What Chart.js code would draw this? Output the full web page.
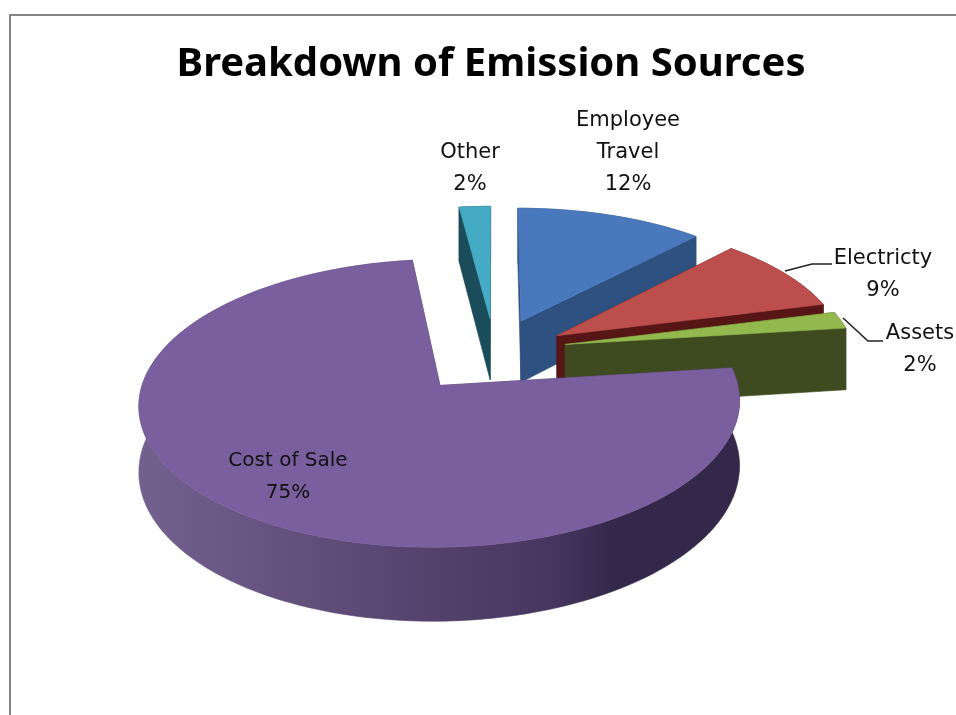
<!DOCTYPE html>
<html>
<head>
<meta charset="utf-8">
<script src="https://cdn.jsdelivr.net/npm/chart.js@4"></script>
<style>
html,body{margin:0;padding:0;background:#fff;overflow:hidden}
#wrap{position:relative;width:956px;height:715px}
</style>
</head>
<body>
<div id="wrap"><canvas id="c" width="956" height="715"></canvas></div>
<script>
const titleText = "Breakdown of Emission Sources";
const categories = ["Employee Travel", "Electricty", "Assets", "Cost of Sale", "Other"];
const values = [12, 9, 2, 75, 2];
const labelLines = [["Employee", "Travel", "12%"], ["Electricty", "9%"], ["Assets", "2%"], ["Cost of Sale", "75%"], ["Other", "2%"]];
const topColors = ["#4A78BC", "#BC4F4E", "#93B84E", "#7A5F9E", "#45ABC4"];
const faceColors = ["#2E5180", "#561616", "#3E4B20", "#4A3A63", "#1B4C5A"];
const explode = [81, 79, 76, 81, 81];

/* view of the tilted pie */
const view = { squash: 0.463, perspective: 0.121, depth: 63 };
const nudge = [[1, 0], [-1, -1], [0, -4], [0, 0], [4, 0]];
/* where each label block is centred, its type size, and its leader line */
const labelAt = [[628, 121], [883, 259], [920, 334], [288, 461], [470, 153]];
const labelSize = [21, 21, 21, 20, 21];
const leaders = [null, [[785, 271], [812, 264], [832, 264]], [[843, 318], [868, 341], [883, 341]], null, null];
const drawOrder = [4, 0, 1, 2, 3];

function project(cx, cy, R, u, v, z) {
  const s = 1 / (1 - view.perspective * v / R);
  return [cx + u * s, cy + view.squash * v * s + z * s];
}

const pie3d = {
  id: "pie3d",
  beforeDraw(chart) {
    const c = chart.ctx;
    c.save();
    c.fillStyle = "#fff";
    c.fillRect(0, 0, chart.width, chart.height);
    c.strokeStyle = "#848484";
    c.lineWidth = 2;
    c.beginPath();
    c.moveTo(10, chart.height);
    c.lineTo(10, 15);
    c.lineTo(chart.width, 15);
    c.stroke();
    c.restore();
  },
  beforeDatasetsDraw(chart) {
    const c = chart.ctx;
    const meta = chart.getDatasetMeta(0);
    const cx = meta.data[0].x, cy = meta.data[0].y, R = meta.data[0].outerRadius;
    const sideFill = (i) => {
      if (i !== 3) return faceColors[i];
      const g = c.createLinearGradient(cx - R - 60, 0, cx + 200, 0);
      g.addColorStop(0, "#72608F");
      g.addColorStop(0.45, "#594672");
      g.addColorStop(0.75, "#46365F");
      g.addColorStop(0.86, "#33274A");
      g.addColorStop(1, "#33274A");
      return g;
    };
    for (const i of drawOrder) {
      const a = meta.data[i];
      const mid = (a.startAngle + a.endAngle) / 2;
      const off = a.options.offset;
      const ox = Math.cos(mid) * off, oy = Math.sin(mid) * off;
      const P = (ang, r, z) => {
        const q = project(cx, cy, R, ox + r * Math.cos(ang), oy + r * Math.sin(ang), z);
        return [q[0] + nudge[i][0], q[1] + nudge[i][1]];
      };
      const steps = Math.max(6, Math.ceil((a.endAngle - a.startAngle) * 40));
      const arc = (z) => {
        const pts = [];
        for (let k = 0; k <= steps; k++) pts.push(P(a.startAngle + (a.endAngle - a.startAngle) * k / steps, R, z));
        return pts;
      };
      const poly = (pts, fill) => {
        c.beginPath();
        pts.forEach((p, n) => n ? c.lineTo(p[0], p[1]) : c.moveTo(p[0], p[1]));
        c.closePath();
        c.fillStyle = fill;
        c.fill();
        c.strokeStyle = fill;
        c.lineWidth = 0.6;
        c.stroke();
      };
      /* outer rim */
      poly(arc(0).concat(arc(view.depth).reverse()), sideFill(i));
      /* the two cut faces */
      poly([P(0, 0, 0), P(a.startAngle, R, 0), P(a.startAngle, R, view.depth), P(0, 0, view.depth)], faceColors[i]);
      poly([P(0, 0, 0), P(a.endAngle, R, 0), P(a.endAngle, R, view.depth), P(0, 0, view.depth)], faceColors[i]);
      /* top surface */
      poly([P(0, 0, 0)].concat(arc(0)), a.options.backgroundColor);
    }
    return false;
  },
  afterDraw(chart) {
    const c = chart.ctx;
    c.save();
    c.strokeStyle = "#222";
    c.lineWidth = 1.6;
    leaders.forEach((l) => {
      if (!l) return;
      c.beginPath();
      l.forEach((p, n) => n ? c.lineTo(p[0], p[1]) : c.moveTo(p[0], p[1]));
      c.stroke();
    });
    c.fillStyle = "#111";
    c.textAlign = "center";
    c.textBaseline = "middle";
    labelLines.forEach((lines, i) => {
      c.font = labelSize[i] + 'px "DejaVu Sans"';
      lines.forEach((t, n) => c.fillText(t, labelAt[i][0], labelAt[i][1] + n * 32));
    });
    c.restore();
  }
};

new Chart(document.getElementById("c"), {
  type: "pie",
  data: {
    labels: categories,
    datasets: [{ data: values, backgroundColor: topColors, borderWidth: 0, offset: explode }]
  },
  options: {
    responsive: false,
    animation: false,
    radius: 290,
    layout: { padding: { left: 26, right: 0, top: 0, bottom: 105 } },
    plugins: {
      legend: { display: false },
      tooltip: { enabled: false },
      title: {
        display: true,
        text: titleText,
        fullSize: false,
        color: "#000",
        font: { family: "Noto Sans", size: 40, weight: "bold" },
        padding: { top: 41, bottom: 11 }
      }
    }
  },
  plugins: [pie3d]
});
</script>
</body>
</html>
